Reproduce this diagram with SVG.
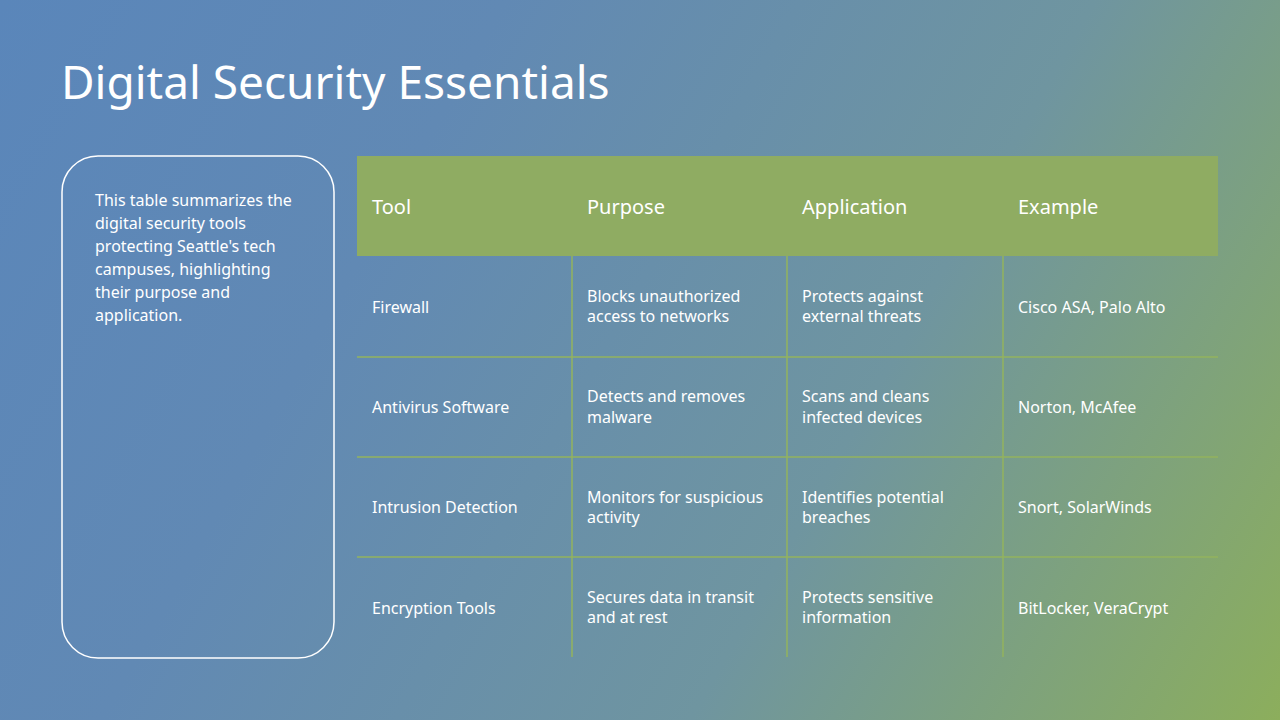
<svg xmlns="http://www.w3.org/2000/svg" width="1280" height="720" viewBox="0 0 1280 720">
<defs>
<linearGradient id="bg" x1="0" y1="0" x2="1280" y2="720" gradientUnits="userSpaceOnUse">
<stop offset="0" stop-color="#5a86ba"/>
<stop offset="0.3" stop-color="#6189b4"/>
<stop offset="0.65" stop-color="#6f95a0"/>
<stop offset="1" stop-color="#8cae5c"/>
</linearGradient>
</defs>
<style>
text{font-family:"Noto Sans","Open Sans",sans-serif;fill:#fff}
.h{font-size:20px}
.c{font-size:16px}
.g{stroke:#93b35e;stroke-width:1.5;fill:none}
</style>
<rect width="1280" height="720" fill="url(#bg)"/>
<text x="61" y="99" font-size="46">Digital Security Essentials</text>
<g id="note">
<rect x="62" y="156" width="272" height="502" rx="36" fill="none" stroke="#fff" stroke-width="1.5"/>
<text class="c" x="95" y="206">This table summarizes the</text>
<text class="c" x="95" y="229">digital security tools</text>
<text class="c" x="95" y="252">protecting Seattle's tech</text>
<text class="c" x="95" y="275">campuses, highlighting</text>
<text class="c" x="95" y="298">their purpose and</text>
<text class="c" x="95" y="321">application.</text>
</g>
<g id="table">
<rect x="357" y="156" width="861" height="100" fill="#8fac62"/>
<g class="h">
<text x="372" y="214">Tool</text><text x="587" y="214">Purpose</text><text x="802" y="214">Application</text><text x="1018" y="214">Example</text>
</g>
<g class="g">
<line x1="357" y1="357" x2="1218" y2="357"/><line x1="357" y1="457" x2="1218" y2="457"/><line x1="357" y1="557" x2="1218" y2="557"/>
<line x1="572" y1="256" x2="572" y2="657"/><line x1="787" y1="256" x2="787" y2="657"/><line x1="1003" y1="256" x2="1003" y2="657"/>
</g>
<g class="c">
<text x="372" y="313">Firewall</text>
<text x="587" y="302">Blocks unauthorized</text><text x="587" y="322">access to networks</text>
<text x="802" y="302">Protects against</text><text x="802" y="322">external threats</text>
<text x="1018" y="313">Cisco ASA, Palo Alto</text>
<text x="372" y="413">Antivirus Software</text>
<text x="587" y="402">Detects and removes</text><text x="587" y="423">malware</text>
<text x="802" y="402">Scans and cleans</text><text x="802" y="423">infected devices</text>
<text x="1018" y="413">Norton, McAfee</text>
<text x="372" y="513">Intrusion Detection</text>
<text x="587" y="503">Monitors for suspicious</text><text x="587" y="523">activity</text>
<text x="802" y="503">Identifies potential</text><text x="802" y="523">breaches</text>
<text x="1018" y="513">Snort, SolarWinds</text>
<text x="372" y="614">Encryption Tools</text>
<text x="587" y="603">Secures data in transit</text><text x="587" y="623">and at rest</text>
<text x="802" y="603">Protects sensitive</text><text x="802" y="623">information</text>
<text x="1018" y="614">BitLocker, VeraCrypt</text>
</g>
</g>
</svg>
